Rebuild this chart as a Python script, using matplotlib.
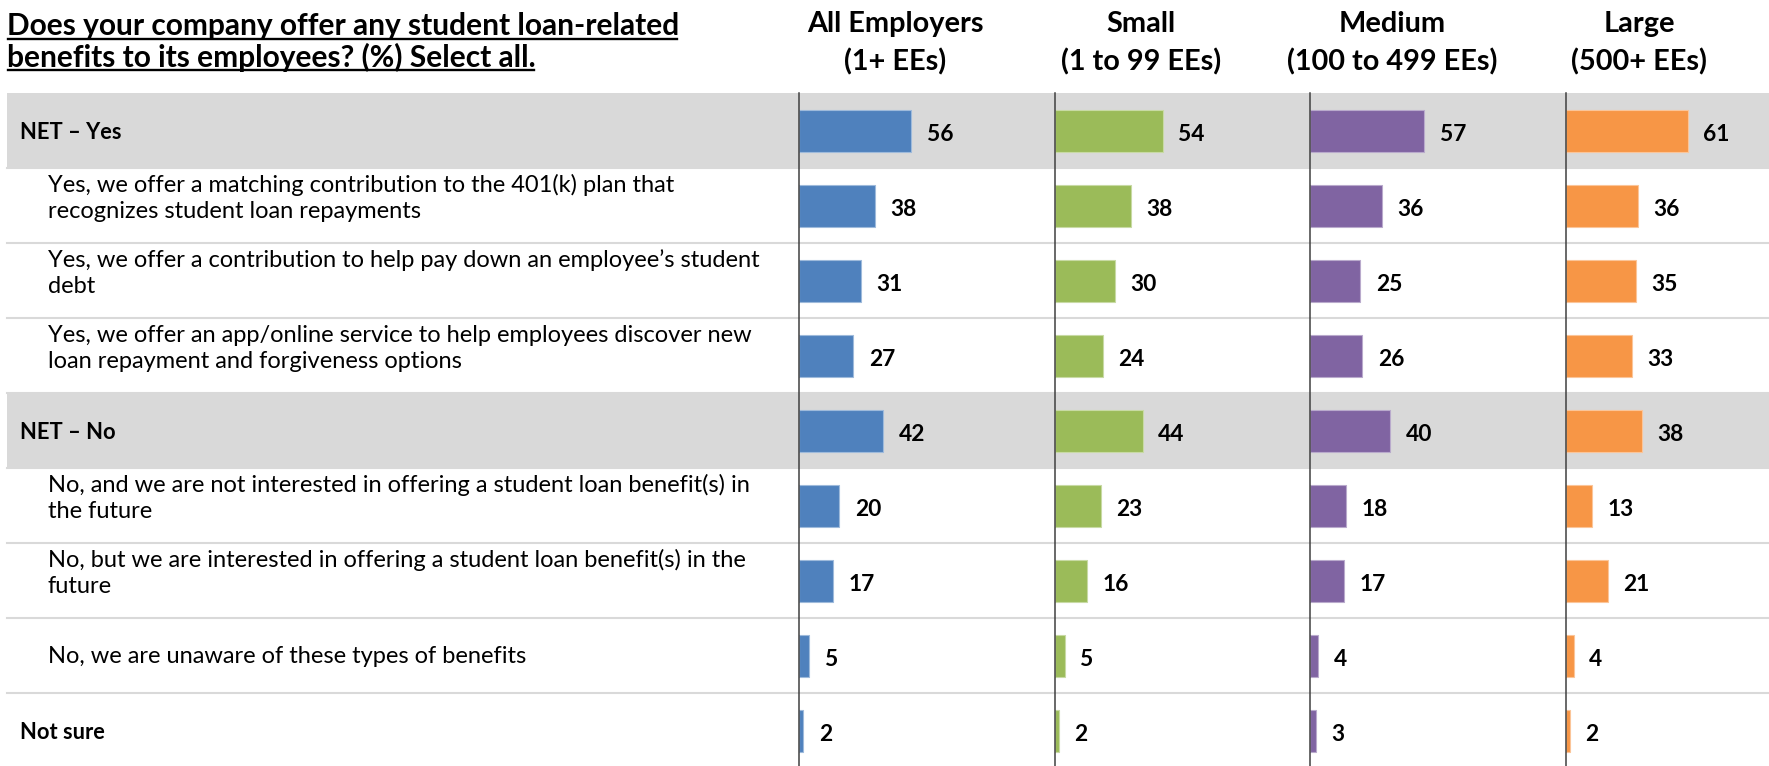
import matplotlib
matplotlib.use("Agg")
import matplotlib.pyplot as plt
from matplotlib.patches import Rectangle
from matplotlib.lines import Line2D
from matplotlib.textpath import TextPath
from matplotlib.font_manager import FontProperties
from matplotlib.colors import to_rgb

# ---------------- data ----------------
title_lines = ["Does your company offer any student loan-related",
               "benefits to its employees? (%) Select all."]

row_labels = [
    "NET – Yes",
    "Yes, we offer a matching contribution to the 401(k) plan that\nrecognizes student loan repayments",
    "Yes, we offer a contribution to help pay down an employee’s student\ndebt",
    "Yes, we offer an app/online service to help employees discover new\nloan repayment and forgiveness options",
    "NET – No",
    "No, and we are not interested in offering a student loan benefit(s) in\nthe future",
    "No, but we are interested in offering a student loan benefit(s) in the\nfuture",
    "No, we are unaware of these types of benefits",
    "Not sure",
]

group_headers = [("All Employers", "(1+ EEs)"),
                 ("Small", "(1 to 99 EEs)"),
                 ("Medium", "(100 to 499 EEs)"),
                 ("Large", "(500+ EEs)")]

all_employers = [56, 38, 31, 27, 42, 20, 17, 5, 2]
small = [54, 38, 30, 24, 44, 23, 16, 5, 2]
medium = [57, 36, 25, 26, 40, 18, 17, 4, 3]
large = [61, 36, 35, 33, 38, 13, 21, 4, 2]

series = [all_employers, small, medium, large]
colors = ["#4F81BD", "#9BBB59", "#8064A2", "#F79646"]

# ---------------- layout / style ----------------
W, H, DPI = 1769, 766, 100
FONT = "Lato"
band_rows = {0, 4}
bold_rows = {0, 4, 8}
row_top0 = 93.3
row_h = 75.0
n = len(row_labels)

panel_left = [799, 1054.5, 1310, 1565.5]
panel_w = 255.0
px_per_unit = 2.0
header_x = [895, 1141, 1392, 1639]


def fit_size(s, target_px, weight):
    fp = FontProperties(family=FONT, weight=weight)
    w = TextPath((0, 0), s, size=100, prop=fp).get_extents().width
    return target_px * 72.0 / w


def ink_width_px(s, size, weight):
    fp = FontProperties(family=FONT, weight=weight)
    ext = TextPath((0, 0), s, size=size, prop=fp).get_extents()
    return ext.x1 * DPI / 72.0


title_fs = fit_size(title_lines[0], 668, "bold")
header_fs = fit_size(group_headers[2][1], 209, "bold")
label_fs = fit_size(row_labels[1].split("\n")[0], 629, "normal")
net_fs = fit_size(row_labels[0], 99, "bold")
value_fs = fit_size(str(all_employers[0]), 24.7, "bold")

plt.rcParams["font.family"] = [FONT, "DejaVu Sans"]

fig = plt.figure(figsize=(W / DPI, H / DPI), dpi=DPI)
fig.patch.set_facecolor("white")

bg = fig.add_axes([0, 0, 1, 1])
bg.set_xlim(0, W)
bg.set_ylim(H, 0)
bg.axis("off")

# bands and separators
for r in range(n):
    top = row_top0 + r * row_h
    if r in band_rows:
        bg.add_patch(Rectangle((7.3, top), W - 7.3, row_h - 1.5,
                               facecolor="#D9D9D9", edgecolor="none", zorder=0))
    if r > 0:
        bg.add_line(Line2D([7.3, W], [top, top], color="#D9D9D9", lw=1.5, zorder=0.5))

# title with underline
title_base = [35.0, 66.7]
for line, yb in zip(title_lines, title_base):
    bg.text(7.0, yb, line, fontsize=title_fs, fontweight="bold",
            ha="left", va="baseline", color="black")
    wpx = ink_width_px(line, title_fs, "bold")
    bg.add_line(Line2D([7.5, 7.0 + wpx], [yb + 3.6, yb + 3.6], color="black", lw=1.7))

# headers
for (l1, l2), hx in zip(group_headers, header_x):
    bg.text(hx, 32.3, l1, fontsize=header_fs, fontweight="bold", ha="center", va="baseline")
    bg.text(hx, 70.0, l2, fontsize=header_fs, fontweight="bold", ha="center", va="baseline")

# row labels
for r, lab in enumerate(row_labels):
    c = row_top0 + (r + 0.5) * row_h
    if r in bold_rows:
        bg.text(20.5, c + 8.5, lab, fontsize=net_fs, fontweight="bold",
                ha="left", va="baseline")
    else:
        lines = lab.split("\n")
        if len(lines) == 2:
            bg.text(48.0, c - 14.0, lines[0], fontsize=label_fs, ha="left", va="baseline")
            bg.text(48.0, c + 12.6, lines[1], fontsize=label_fs, ha="left", va="baseline")
        else:
            bg.text(48.0, c + 7.5, lines[0], fontsize=label_fs, ha="left", va="baseline")

# panels
ax_bottom_px = row_top0 + n * row_h
for vals, col, left in zip(series, colors, panel_left):
    ax = fig.add_axes([left / W, 1 - ax_bottom_px / H, panel_w / W, (n * row_h) / H])
    ax.set_facecolor("none")
    edge = tuple(0.55 * c + 0.45 for c in to_rgb(col))
    ax.barh(range(n), vals, height=0.555, color=col, edgecolor=edge, linewidth=0.8, zorder=2)
    ax.set_xlim(0, panel_w / px_per_unit)
    ax.set_ylim(n - 0.5, -0.5)
    for s in ["top", "right", "bottom"]:
        ax.spines[s].set_visible(False)
    ax.spines["left"].set_color("#404040")
    ax.spines["left"].set_linewidth(1.1)
    ax.spines["left"].set_zorder(3)
    ax.set_xticks([])
    ax.set_yticks([])
    for i, v in enumerate(vals):
        ax.annotate(str(v), xy=(v, i), xytext=(11.3, -7.2), textcoords="offset points",
                    ha="left", va="baseline", fontsize=value_fs, fontweight="bold",
                    color="black", annotation_clip=False)

fig.savefig("out.png", dpi=DPI, facecolor="white")
